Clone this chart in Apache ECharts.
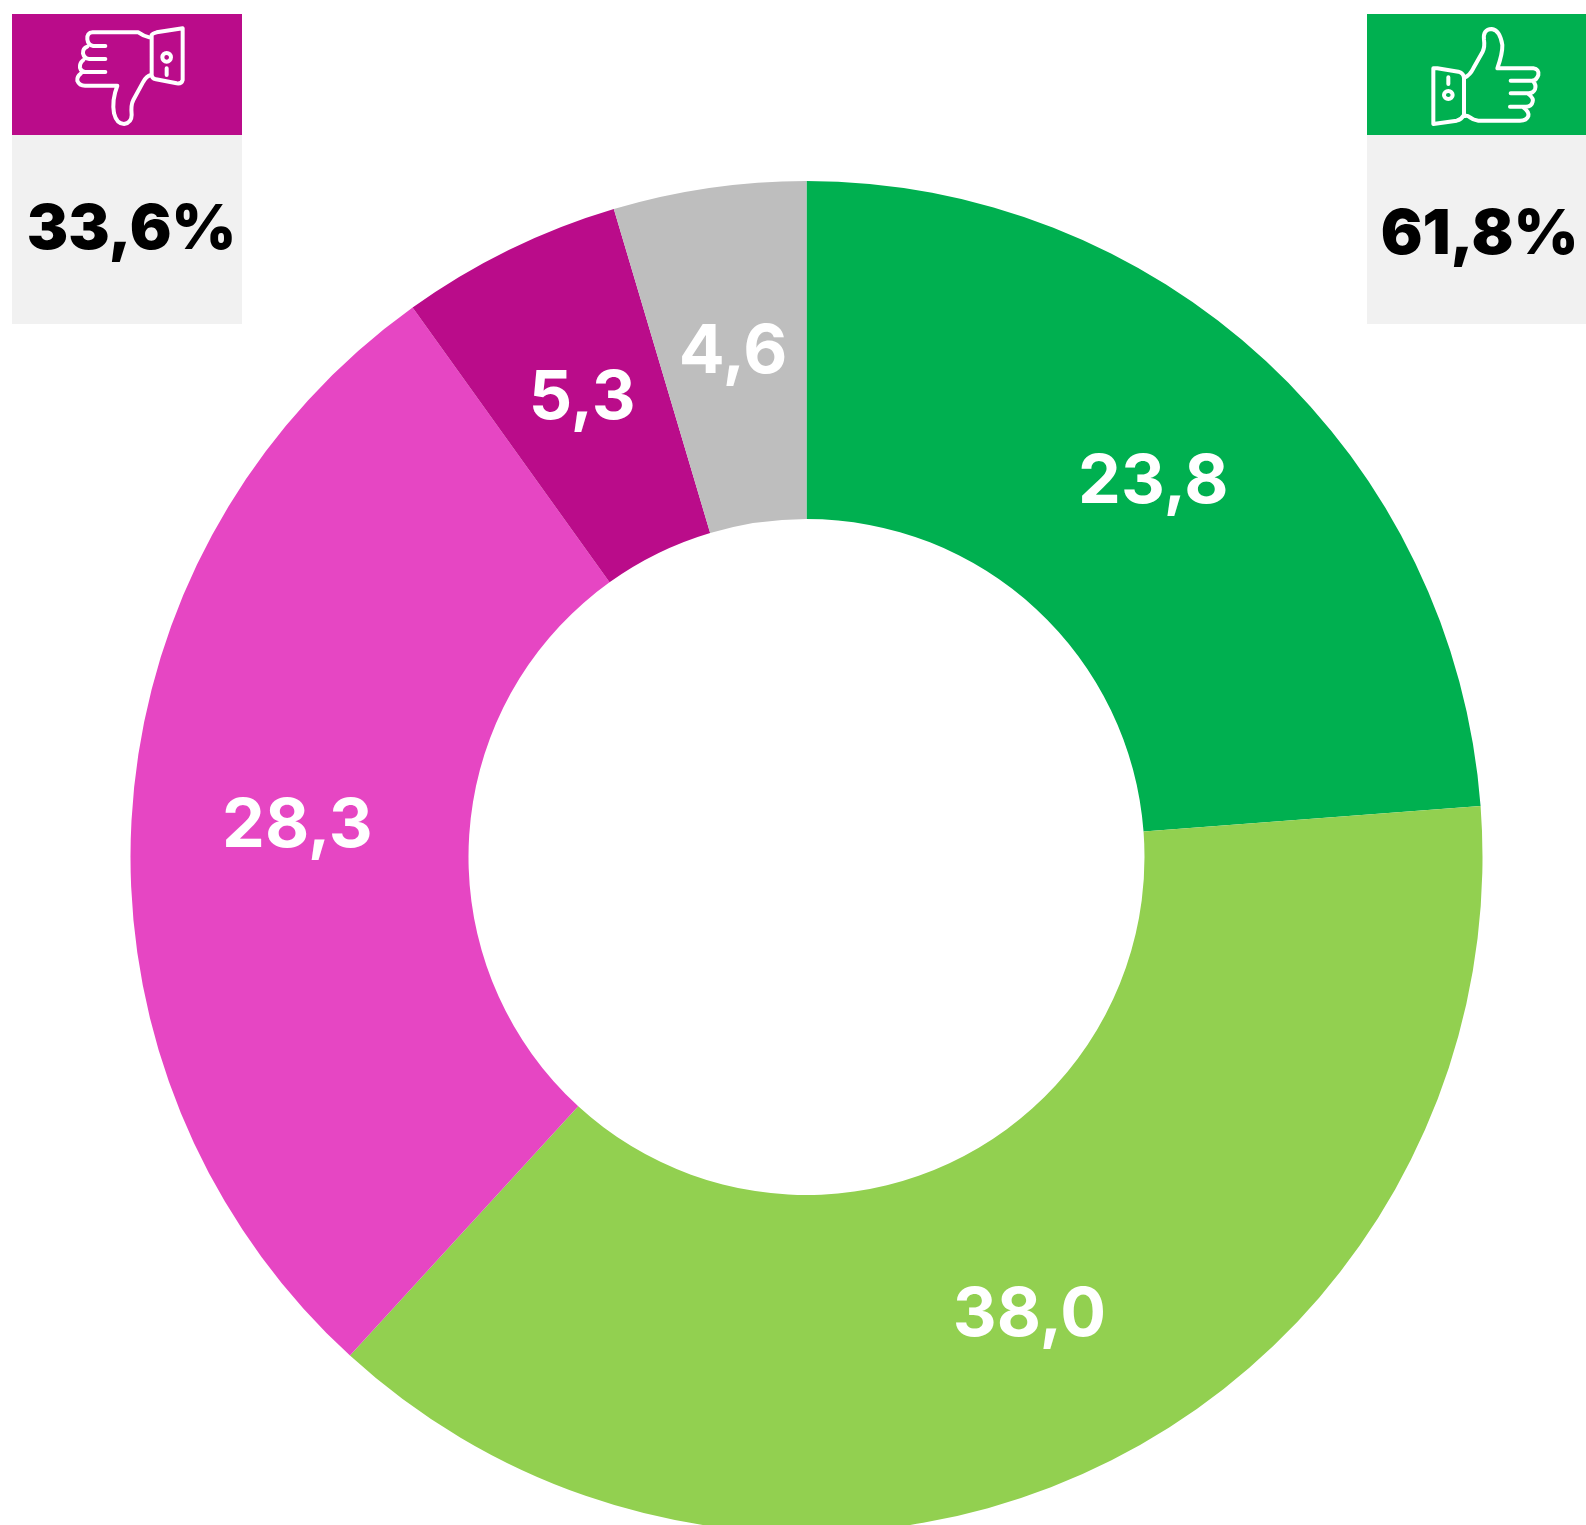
<!DOCTYPE html>
<html><head><meta charset="utf-8">
<style>html,body{margin:0;padding:0;background:#fff}#c{width:1586px;height:1525px}</style>
<script src="https://cdn.jsdelivr.net/npm/echarts@6/dist/echarts.min.js"></script>
</head><body><div id="c"></div>
<script>
const categories = ['Favourable A','Favourable B','Unfavourable A','Unfavourable B','No answer'];
const values = [23.8,38.0,28.3,5.3,4.6];
const colors = ['#00B050','#92D050','#E646C3','#BA0C8A','#BEBEBE'];
const totalsText = ['33,6%','61,8%'];
const fontFamily = 'Inter, "Noto Sans", sans-serif';
const fmt = v => v.toFixed(1).replace('.', ',');

const downHand = 'M448,112 Q430,108 415,97 L278,97 Q260,98 262,118 Q264,135 280,138 L316,138 M262,140 Q248,145 249,160 Q252,175 268,177 L316,177 M250,180 Q238,190 240,203 Q243,215 255,216 L316,216 M243,220 Q230,230 232,242 Q238,257 255,257 L352,257 Q335,300 342,340 Q350,372 372,372 Q395,368 395,345 Q392,315 400,300 L430,245 Q440,228 452,225 M455,105 Q458,100 470,97 L548,85 L548,240 Q545,252 530,250 L468,238 Q455,235 455,225 Z M500,159 A13,13 0 1 1 499.9,159 Z M500,205 L500,225';
const upHand = 'M345,232 Q360,225 370,205 L398,155 Q405,140 402,120 Q398,88 425,87 Q450,90 457,135 Q458,160 442,205 L550,205 Q568,207 565,225 Q560,240 548,242 L482,242 M548,242 Q560,255 555,268 Q550,280 535,280 L482,280 M535,282 Q552,295 548,305 Q545,320 528,320 L480,320 M520,322 Q538,335 535,348 Q530,362 510,362 L385,362 Q370,360 360,352 Q352,346 345,348 M250,205 L262,205 L325,215 Q342,220 342,235 L342,345 Q335,358 320,362 L250,372 Z M295,273 A13,12 0 1 1 294.9,273 Z M295,232 L295,252';

echarts.graphic.registerShape('thumbDown', echarts.graphic.extendPath(downHand, {}));
echarts.graphic.registerShape('thumbUp', echarts.graphic.extendPath(upHand, {}));

const icon = (t, x) => ({type:t, x, y:0, scaleX:1/3, scaleY:1/3, silent:true,
  style:{fill:null, stroke:'#fff', lineWidth:12, lineJoin:'round', lineCap:'round'}});
const rect = (x,y,w,h,fill) => ({type:'rect', silent:true, shape:{x,y,width:w,height:h}, style:{fill}});
const total = (t,x,y) => ({type:'text', silent:true, x, y,
  style:{text:t, fill:'#000', font:'900 62px '+fontFamily, align:'center', verticalAlign:'middle'}});

const chart = echarts.init(document.getElementById('c'), null, {renderer:'canvas'});
chart.setOption({
  animation:false,
  backgroundColor:'#fff',
  series:[{
    type:'pie', center:[806.5,857], radius:[338,676], startAngle:90, clockwise:true,
    silent:true, avoidLabelOverlap:false, labelLine:{show:false},
    label:{show:true, position:'inside', color:'#fff', fontFamily, fontWeight:700, fontSize:68,
      formatter:p => fmt(p.value)},
    data:categories.map((name,i)=>({name, value:values[i], itemStyle:{color:colors[i]}}))
  }],
  graphic:[
    rect(12,14,230,121,'#BA0C8A'), rect(12,135,230,189,'#F1F1F1'),
    rect(1367,14,219,121,'#00B050'), rect(1367,135,219,189,'#F1F1F1'),
    icon('thumbDown',0), icon('thumbUp',1350),
    total(totalsText[0],131.5,230), total(totalsText[1],1479.5,235)
  ]
});
</script></body></html>
